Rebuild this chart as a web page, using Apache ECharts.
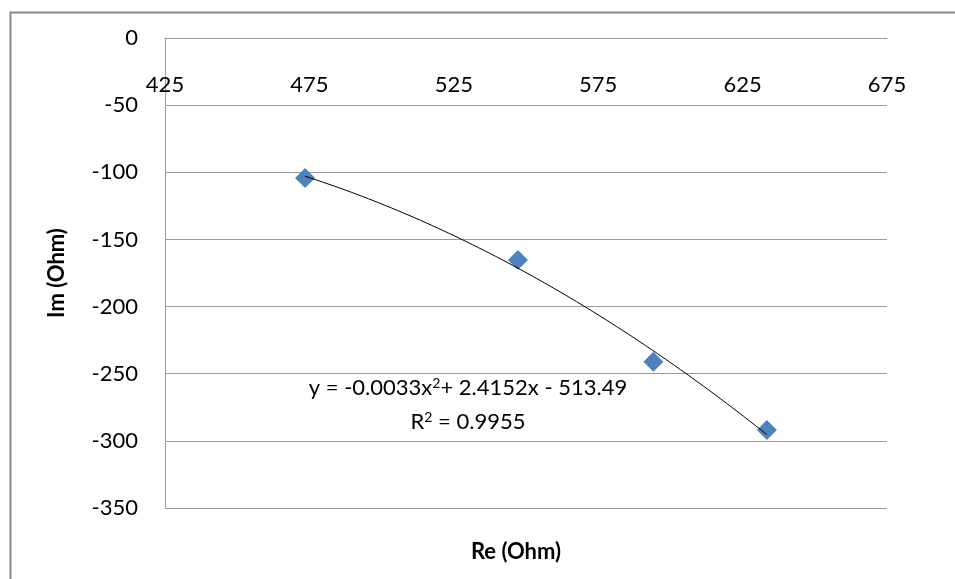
<!DOCTYPE html>
<html>
<head>
<meta charset="utf-8">
<script src="https://cdn.jsdelivr.net/npm/echarts@6/dist/echarts.min.js"></script>
<style>
html,body{margin:0;padding:0;background:#fff;}
#chart{width:955px;height:579px;}
</style>
</head>
<body>
<div id="chart"></div>
<script>
// Data
const reValues = [473.5, 547.2, 594.1, 633.4];
const imValues = [-104.2, -165.4, -241, -292];
const xTickLabels = ['425', '475', '525', '575', '625', '675'];
const yTickLabels = ['0', '-50', '-100', '-150', '-200', '-250', '-300', '-350'];
const trendEquation = ['y = -0.0033x', '2', '+ 2.4152x - 513.49'];
const trendR2 = ['R', '2', ' = 0.9955'];
const xAxisTitle = 'Re (Ohm)';
const yAxisTitle = 'Im (Ohm)';

// Least-squares quadratic fit of the data (polynomial trendline)
function quadFit(xs, ys) {
  const n = xs.length;
  let s = [0,0,0,0,0], t = [0,0,0];
  for (let i = 0; i < n; i++) {
    let p = 1;
    for (let k = 0; k < 5; k++) { s[k] += p; p *= xs[i]; }
    p = 1;
    for (let k = 0; k < 3; k++) { t[k] += p * ys[i]; p *= xs[i]; }
  }
  const A = [[s[0],s[1],s[2],t[0]],[s[1],s[2],s[3],t[1]],[s[2],s[3],s[4],t[2]]];
  for (let c = 0; c < 3; c++) {
    let piv = c;
    for (let r = c+1; r < 3; r++) if (Math.abs(A[r][c]) > Math.abs(A[piv][c])) piv = r;
    [A[c], A[piv]] = [A[piv], A[c]];
    for (let r = 0; r < 3; r++) {
      if (r === c) continue;
      const f = A[r][c] / A[c][c];
      for (let k = c; k < 4; k++) A[r][k] -= f * A[c][k];
    }
  }
  return [A[0][3]/A[0][0], A[1][3]/A[1][1], A[2][3]/A[2][2]]; // c0, c1, c2
}
const coef = quadFit(reValues, imValues);
const xMin = Math.min(...reValues), xMax = Math.max(...reValues);
const trend = [];
const steps = 80;
for (let i = 0; i <= steps; i++) {
  const x = xMin + (xMax - xMin) * i / steps;
  trend.push([x, coef[0] + coef[1]*x + coef[2]*x*x]);
}

const chart = echarts.init(document.getElementById('chart'));
const FONT = 'Lato';
const xMinAxis = Number(xTickLabels[0]), xMaxAxis = Number(xTickLabels[xTickLabels.length-1]);
const yMinAxis = Number(yTickLabels[yTickLabels.length-1]), yMaxAxis = Number(yTickLabels[0]);
const xStep = Number(xTickLabels[1]) - Number(xTickLabels[0]);

const richText = {
  n: { fontFamily: FONT, fontSize: 22, color: '#000' },
  s: { fontFamily: FONT, fontSize: 14, color: '#000', padding: [0, 0, 10, 0] }
};

chart.setOption({
  animation: false,
  backgroundColor: '#fff',
  grid: { left: 165, top: 38, right: 68, bottom: 71 },
  xAxis: [{
    type: 'value', position: 'top', min: xMinAxis, max: xMaxAxis, interval: xStep/2,
    axisLine: { show: true, onZero: false, lineStyle: { color: '#9a9a9a', width: 1 } },
    axisTick: { show: false },
    splitLine: { show: false },
    axisLabel: {
      inside: true, margin: 36, color: '#000', fontFamily: FONT, fontSize: 22,
      formatter: v => xTickLabels.includes(String(Math.round(v))) ? String(Math.round(v)) : ''
    }
  }, {
    type: 'value', position: 'bottom', min: xMinAxis, max: xMaxAxis,
    axisLine: { show: false }, axisTick: { show: false }, axisLabel: { show: false }, splitLine: { show: false },
    name: xAxisTitle, nameLocation: 'middle', nameGap: 33,
    nameTextStyle: { color: '#000', fontFamily: FONT, fontSize: 22, fontWeight: 'bold', padding: [0, 20, 0, 0] }
  }],
  yAxis: {
    type: 'value', min: yMinAxis, max: yMaxAxis, interval: 50,
    axisLine: { show: true, lineStyle: { color: '#9a9a9a', width: 1 } },
    axisTick: { show: false },
    splitLine: { show: true, lineStyle: { color: '#9a9a9a', width: 1 } },
    axisLabel: { margin: 27, color: '#000', fontFamily: FONT, fontSize: 22 },
    name: yAxisTitle, nameLocation: 'middle', nameGap: 97, nameRotate: 90,
    nameTextStyle: { color: '#000', fontFamily: FONT, fontSize: 22, fontWeight: 'bold' }
  },
  series: [{
    type: 'line', xAxisIndex: 0, data: trend, showSymbol: false, symbol: 'none',
    lineStyle: { color: '#000', width: 1 }, z: 3, silent: true
  }, {
    type: 'scatter', xAxisIndex: 0, data: reValues.map((x, i) => [x, imValues[i]]),
    symbol: 'diamond', symbolSize: 20,
    itemStyle: { color: '#4F81BD', opacity: 1 }, z: 2
  }],
  graphic: [{
    type: 'rect', left: 8, top: 10, silent: true,
    shape: { x: 0, y: 0, width: 1100, height: 800 },
    style: { fill: 'none', stroke: '#878787', lineWidth: 2 }
  }, {
    type: 'text', x: 468, y: 388, silent: true,
    style: {
      text: '{n|' + trendEquation[0] + '}{s|' + trendEquation[1] + '}{n|' + trendEquation[2] + '}',
      rich: richText, align: 'center', verticalAlign: 'middle'
    }
  }, {
    type: 'text', x: 468, y: 422, silent: true,
    style: {
      text: '{n|' + trendR2[0] + '}{s|' + trendR2[1] + '}{n|' + trendR2[2] + '}',
      rich: richText, align: 'center', verticalAlign: 'middle'
    }
  }]
});
</script>
</body>
</html>
